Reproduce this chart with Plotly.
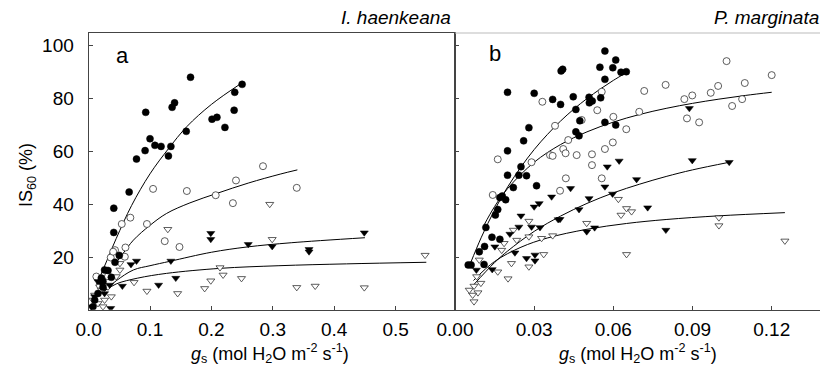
import plotly.graph_objects as go

# ---------------- Panel a: I. haenkeana ----------------
a_fc_x = [0.166, 0.250, 0.238, 0.140, 0.136, 0.093, 0.237, 0.201, 0.209, 0.222, 0.159, 0.100, 0.108,
          0.118, 0.134, 0.130, 0.092, 0.078, 0.066, 0.041, 0.041, 0.050, 0.043, 0.0153, 0.0099, 0.0072,
          0.026, 0.0316, 0.0207, 0.0234, 0.037, 0.0234]
a_fc_y = [88.1, 85.4, 82.4, 78.4, 76.7, 74.8, 75.6, 72.2, 72.9, 69.1, 67.6, 64.8, 62.3,
          61.9, 61.9, 58.3, 60.3, 57.1, 44.6, 38.5, 29.3, 20.6, 18.0, 6.2, 3.7, 1.2,
          15.1, 14.9, 12.0, 10.7, 12.3, 8.5]

a_oc_x = [0.284, 0.240, 0.339, 0.105, 0.160, 0.207, 0.235, 0.068, 0.054, 0.095, 0.124, 0.148,
          0.060, 0.043, 0.059, 0.036, 0.040, 0.0316, 0.018, 0.0126]
a_oc_y = [54.4, 49.0, 46.2, 45.8, 45.0, 43.4, 40.4, 34.9, 32.5, 32.5, 26.0, 23.8,
          23.6, 22.6, 20.1, 19.8, 22.0, 12.7, 9.4, 12.6]

a_ft_x = [0.449, 0.199, 0.199, 0.260, 0.299, 0.359, 0.359, 0.134, 0.078, 0.069, 0.142, 0.114,
          0.055, 0.036, 0.0153, 0.0207, 0.0343, 0.0099, 0.0045, 0.026]
a_ft_y = [29.2, 29.0, 26.7, 24.8, 24.0, 22.9, 22.0, 18.5, 18.5, 17.2, 12.0, 9.4,
          9.0, 0.6, 10.7, 10.0, 9.4, 5.0, 1.2, 6.2]

a_ot_x = [0.548, 0.295, 0.129, 0.299, 0.214, 0.219, 0.249, 0.199, 0.189, 0.339, 0.369, 0.449,
          0.095, 0.145, 0.074, 0.051, 0.051, 0.0316, 0.0207, 0.0099, 0.0072, 0.0153, 0.026,
          0.037, 0.0234, 0.045]
a_ot_y = [20.7, 40.0, 30.5, 26.7, 16.0, 13.2, 11.9, 11.0, 8.1, 8.5, 9.0, 8.4,
          7.1, 6.2, 10.4, 17.6, 15.1, 8.7, 7.5, 5.6, 3.7, 2.4, 3.7,
          5.0, 1.2, 12.6]

# fitted curves
a_fit1_x = [0.012, 0.025, 0.045, 0.07, 0.10, 0.13, 0.16, 0.20, 0.25]
a_fit1_y = [9.0, 16.0, 27.0, 39.5, 51.5, 61.0, 69.4, 77.8, 86.0]
a_fit2_x = [0.042, 0.055, 0.073, 0.10, 0.127, 0.165, 0.209, 0.26, 0.312, 0.34]
a_fit2_y = [17.0, 21.0, 26.4, 32.0, 36.5, 40.5, 44.1, 48.0, 51.4, 53.0]
a_fit3_x = [0.025, 0.045, 0.073, 0.10, 0.133, 0.20, 0.258, 0.33, 0.45]
a_fit3_y = [7.0, 11.0, 15.1, 16.7, 18.4, 21.8, 23.8, 25.4, 27.3]
a_fit4_x = [0.025, 0.045, 0.08, 0.127, 0.214, 0.31, 0.42, 0.55]
a_fit4_y = [7.0, 9.8, 12.0, 13.8, 15.7, 16.7, 17.4, 18.0]

# ---------------- Panel b: P. marginata ----------------
b_fc_x = [0.0568, 0.0609, 0.0549, 0.0598, 0.0629, 0.0649, 0.0402, 0.0408, 0.0568, 0.0199, 0.0300,
          0.0370, 0.0400, 0.0448, 0.0508, 0.0520, 0.0509, 0.0552, 0.0458, 0.0473, 0.0568, 0.0609,
          0.0458, 0.0470, 0.0280, 0.0260, 0.0199, 0.0250, 0.0199, 0.0242, 0.0271, 0.0221, 0.0309,
          0.0179, 0.0192, 0.0170, 0.0153, 0.0162, 0.0117, 0.0140, 0.0170, 0.0112, 0.0092, 0.0110,
          0.0050, 0.0061]
b_fc_y = [98.0, 94.6, 91.9, 91.7, 90.0, 90.2, 90.5, 91.1, 87.3, 82.4, 82.0,
          79.7, 77.8, 80.7, 80.5, 79.1, 78.4, 80.3, 75.9, 71.6, 71.0, 70.0,
          67.4, 65.9, 69.0, 64.0, 60.2, 54.2, 51.0, 51.0, 50.8, 46.3, 47.0,
          43.1, 41.7, 42.5, 35.9, 38.0, 31.2, 27.5, 26.7, 24.0, 22.0, 17.2,
          17.0, 17.0]

b_oc_x = [0.1029, 0.1200, 0.0798, 0.0717, 0.1098, 0.0997, 0.0969, 0.0899, 0.0869, 0.1088, 0.1050,
          0.0698, 0.0879, 0.0925, 0.0556, 0.0331, 0.0539, 0.0480, 0.0379, 0.0600, 0.0649, 0.0429,
          0.0598, 0.0568, 0.0410, 0.0419, 0.0360, 0.0370, 0.0461, 0.0519, 0.0519, 0.0290, 0.0162,
          0.0420, 0.0556, 0.0398, 0.0143]
b_oc_y = [94.2, 88.9, 85.2, 82.9, 85.9, 84.8, 82.2, 81.2, 79.8, 79.8, 77.2,
          75.0, 72.5, 71.0, 82.6, 78.8, 75.6, 71.9, 69.7, 73.1, 68.4, 64.3,
          63.4, 60.9, 60.9, 59.3, 58.6, 58.3, 58.6, 58.9, 54.8, 55.9, 57.0,
          49.8, 49.8, 45.1, 43.5]

b_ft_x = [0.0888, 0.0899, 0.1039, 0.0688, 0.0622, 0.0577, 0.0568, 0.0597, 0.0730, 0.0438, 0.0366,
          0.0508, 0.0470, 0.0319, 0.0300, 0.0391, 0.0398, 0.0250, 0.0242, 0.0290, 0.0322, 0.0208,
          0.0151, 0.0227, 0.0271, 0.0303, 0.0303, 0.0499, 0.0529, 0.0799, 0.0081, 0.0141]
b_ft_y = [76.3, 56.6, 55.9, 49.4, 56.4, 54.2, 46.6, 43.9, 38.7, 46.0, 42.8,
          42.2, 38.0, 40.3, 39.0, 34.2, 34.3, 35.6, 31.4, 31.4, 31.2, 28.7,
          23.9, 21.6, 19.5, 20.8, 18.6, 29.6, 31.1, 30.2, 15.1, 15.3]

b_ot_x = [0.1250, 0.1000, 0.1000, 0.0619, 0.0650, 0.0669, 0.0629, 0.0650, 0.0499, 0.0336, 0.0370,
          0.0328, 0.0280, 0.0280, 0.0280, 0.0221, 0.0234, 0.0214, 0.0201, 0.0162, 0.0177, 0.0186,
          0.0092, 0.0082, 0.0098, 0.0072, 0.0087, 0.0067, 0.0072, 0.0054]
b_ot_y = [26.1, 34.9, 31.9, 41.9, 38.4, 37.2, 35.9, 21.0, 32.8, 21.0, 28.1,
          27.1, 33.6, 27.7, 16.3, 30.2, 26.4, 17.6, 11.8, 14.4, 22.6, 25.2,
          18.9, 12.6, 10.1, 9.0, 6.5, 5.6, 3.1, 7.5]

b_fit1_x = [0.0058, 0.01, 0.015, 0.02, 0.025, 0.03, 0.035, 0.04, 0.045, 0.05, 0.055, 0.06, 0.065]
b_fit1_y = [17.5, 27.5, 37.8, 46.6, 54.1, 60.7, 66.4, 71.5, 76.0, 80.0, 83.6, 86.9, 89.9]
b_fit2_x = [0.011, 0.015, 0.02, 0.03, 0.04, 0.05, 0.06, 0.07, 0.08, 0.09, 0.10, 0.11, 0.12]
b_fit2_y = [32.1, 39.1, 46.0, 55.9, 62.6, 67.4, 71.1, 74.0, 76.3, 78.2, 79.8, 81.2, 82.4]
b_fit3_x = [0.007, 0.015, 0.02, 0.03, 0.04, 0.05, 0.06, 0.07, 0.08, 0.09, 0.104]
b_fit3_y = [9.4, 17.9, 22.3, 29.7, 35.5, 40.3, 44.3, 47.6, 50.5, 53.0, 55.9]
b_fit4_x = [0.007, 0.015, 0.025, 0.035, 0.05, 0.065, 0.08, 0.10, 0.125]
b_fit4_y = [11.1, 18.3, 23.7, 27.2, 30.5, 32.7, 34.2, 35.6, 36.8]

a_xticks = [0.0, 0.1, 0.2, 0.3, 0.4, 0.5]
a_xticklabels = ["0.0", "0.1", "0.2", "0.3", "0.4", "0.5"]
b_xticks = [0.0, 0.03, 0.06, 0.09, 0.12]
b_xticklabels = ["0.00", "0.03", "0.06", "0.09", "0.12"]
yticks = [20, 40, 60, 80, 100]

FONT = "Liberation Sans, Arial, sans-serif"
W, H = 822, 374

def px_x(p):
    return p / W

def px_y(p):
    return (H - p) / H

fig = go.Figure()

def add_panel(xa, ya, fc, oc, ft, ot, fits):
    mk = dict(xaxis=xa, yaxis=ya, mode="markers", showlegend=False, hoverinfo="skip")
    for fx, fy in fits:
        fig.add_trace(go.Scatter(x=fx, y=fy, mode="lines", line=dict(color="black", width=1, shape="spline"),
                                 xaxis=xa, yaxis=ya, showlegend=False, hoverinfo="skip"))
    fig.add_trace(go.Scatter(x=ot[0], y=ot[1], marker=dict(symbol="triangle-down", size=7, color="white",
                                                           line=dict(color="#333", width=0.8)), **mk))
    fig.add_trace(go.Scatter(x=oc[0], y=oc[1], marker=dict(symbol="circle", size=7, color="white",
                                                           line=dict(color="#333", width=0.8)), **mk))
    fig.add_trace(go.Scatter(x=ft[0], y=ft[1], marker=dict(symbol="triangle-down", size=7, color="black",
                                                           line=dict(color="black", width=0.5)), **mk))
    fig.add_trace(go.Scatter(x=fc[0], y=fc[1], marker=dict(symbol="circle", size=7, color="black",
                                                           line=dict(color="black", width=0.5)), **mk))

add_panel("x", "y", (a_fc_x, a_fc_y), (a_oc_x, a_oc_y), (a_ft_x, a_ft_y), (a_ot_x, a_ot_y),
          [(a_fit1_x, a_fit1_y), (a_fit2_x, a_fit2_y), (a_fit3_x, a_fit3_y), (a_fit4_x, a_fit4_y)])
add_panel("x2", "y2", (b_fc_x, b_fc_y), (b_oc_x, b_oc_y), (b_ft_x, b_ft_y), (b_ot_x, b_ot_y),
          [(b_fit1_x, b_fit1_y), (b_fit2_x, b_fit2_y), (b_fit3_x, b_fit3_y), (b_fit4_x, b_fit4_y)])

ydom = [px_y(309.8), px_y(33)]
tickfont = dict(family=FONT, size=19, color="black")
axis_common = dict(showgrid=False, zeroline=False, showline=True, linecolor="#444", linewidth=1,
                   ticks="inside", ticklen=4, tickcolor="#444", tickfont=tickfont, automargin=False)

fig.update_layout(
    width=W, height=H, autosize=False,
    margin=dict(l=0, r=0, t=0, b=0, pad=0),
    paper_bgcolor="white", plot_bgcolor="white",
    xaxis=dict(domain=[px_x(88.6), px_x(455)], range=[0, 0.5967], anchor="y", mirror=True,
               tickvals=a_xticks, ticktext=a_xticklabels, ticklabelstandoff=2, **axis_common),
    yaxis=dict(domain=ydom, range=[0, 104.85], anchor="x", mirror=True,
               tickvals=yticks, ticklabelstandoff=10, **axis_common),
    xaxis2=dict(domain=[px_x(455), px_x(820)], range=[0, 0.1383], anchor="y2",
                tickvals=b_xticks, ticktext=b_xticklabels, ticklabelstandoff=2, **axis_common),
    yaxis2=dict(domain=ydom, range=[0, 104.85], anchor="x2", tickvals=yticks,
                showticklabels=False, **axis_common),
)

# faint top border of panel b
fig.add_shape(type="line", xref="paper", yref="paper", x0=px_x(455), x1=px_x(820),
              y0=px_y(33), y1=px_y(33), line=dict(color="#bbbbbb", width=1))

ann_font = dict(family=FONT, size=18, color="black")
title_font = dict(family=FONT, size=19, color="black")
xtitle = "<i>g</i><sub>s</sub> (mol H<sub>2</sub>O m<sup>-2</sup> s<sup>-1</sup>)"
fig.add_annotation(x=px_x(270), y=px_y(353), xref="paper", yref="paper", text=xtitle,
                   showarrow=False, font=ann_font, xanchor="center", yanchor="middle")
fig.add_annotation(x=px_x(638), y=px_y(353), xref="paper", yref="paper", text=xtitle,
                   showarrow=False, font=ann_font, xanchor="center", yanchor="middle")
fig.add_annotation(x=px_x(27), y=px_y(175), xref="paper", yref="paper", text="IS<sub>60</sub> (%)",
                   showarrow=False, font=ann_font, textangle=-90, xanchor="center", yanchor="middle")
fig.add_annotation(x=px_x(453), y=px_y(18), xref="paper", yref="paper", text="<i>I. haenkeana</i>",
                   showarrow=False, font=title_font, xanchor="right", yanchor="middle")
fig.add_annotation(x=px_x(821), y=px_y(18), xref="paper", yref="paper", text="<i>P. marginata</i>",
                   showarrow=False, font=title_font, xanchor="right", yanchor="middle")
fig.add_annotation(x=px_x(122), y=px_y(55), xref="paper", yref="paper", text="a",
                   showarrow=False, font=dict(family=FONT, size=22, color="black"),
                   xanchor="center", yanchor="middle")
fig.add_annotation(x=px_x(495), y=px_y(53), xref="paper", yref="paper", text="b",
                   showarrow=False, font=dict(family=FONT, size=22, color="black"),
                   xanchor="center", yanchor="middle")

fig.write_html("out.html", config={"displayModeBar": False, "staticPlot": True},
               post_script="document.body.style.margin='0';document.body.style.padding='0';")
